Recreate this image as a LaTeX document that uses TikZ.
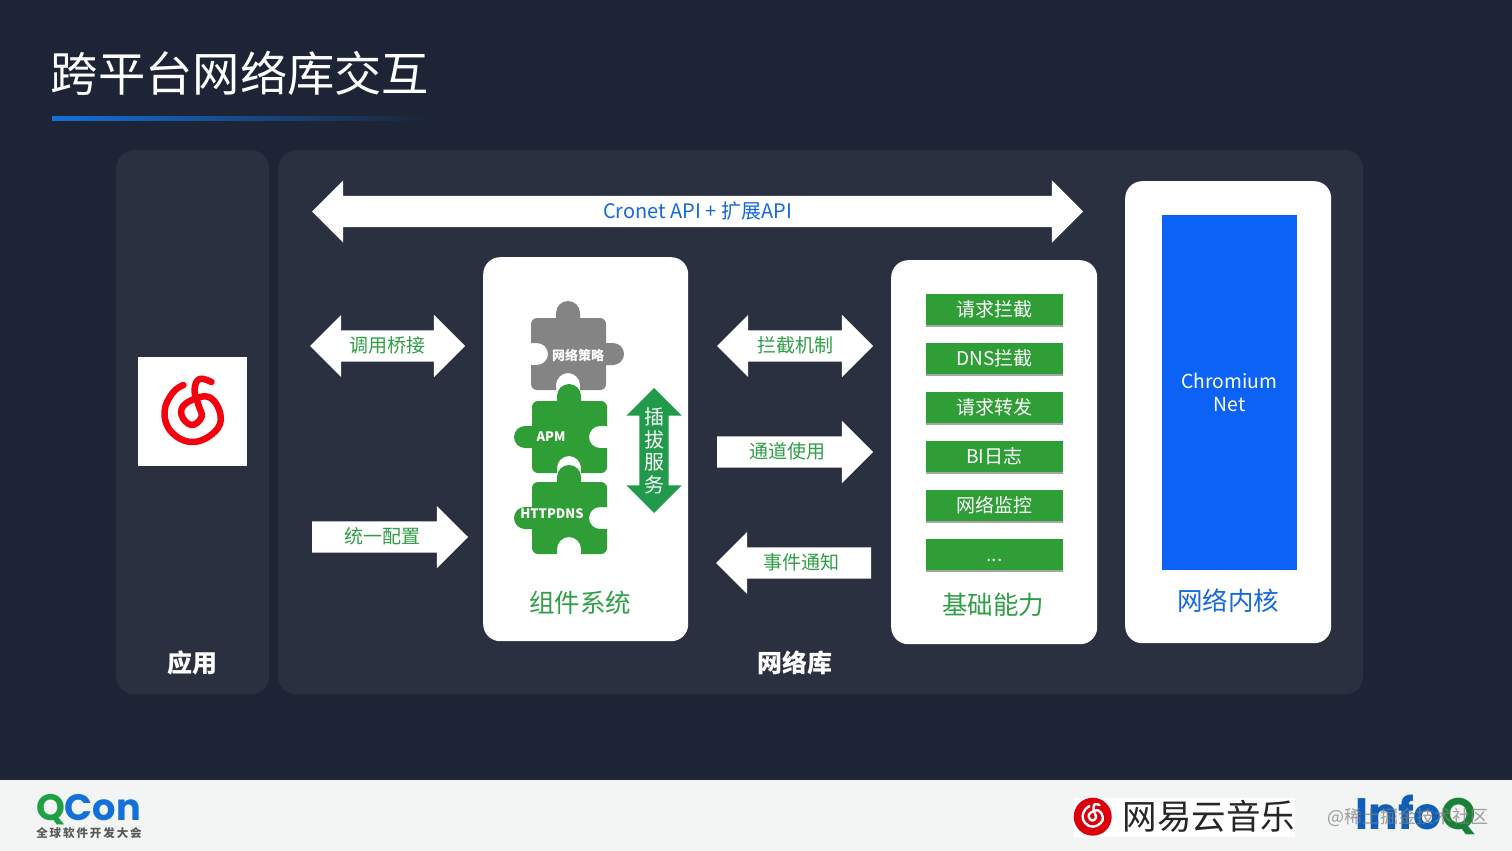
\documentclass[tikz,border=0pt]{standalone}
\usepackage{fontspec}
\setmainfont{Noto Sans CJK SC}
\newfontfamily\logofont{Poppins}
\usetikzlibrary{positioning,shapes.arrows,shadows}
\definecolor{pagebg}{HTML}{1C2436}
\definecolor{panelbg}{HTML}{2A3040}
\definecolor{footbg}{HTML}{F3F4F4}
\definecolor{cardgreen}{HTML}{2F9E37}
\definecolor{textgreen}{HTML}{2E9F46}
\definecolor{pluggreen}{HTML}{219A4B}
\definecolor{puzzlegray}{HTML}{848484}
\definecolor{corered}{HTML}{0C62F5}
\definecolor{textblue}{HTML}{1568E0}
\definecolor{neteasered}{HTML}{F5000F}
\definecolor{qgreen}{HTML}{1FA045}
\definecolor{qblue}{HTML}{1270D8}
\newcommand{\pxfont}[1]{\fontsize{#1}{#1}\selectfont}
\tikzset{
	panelbox/.style={fill=panelbg, rounded corners=18pt, anchor=north west, inner sep=0pt},
	whitecard/.style={fill=white, rounded corners=17pt, anchor=north west, inner sep=0pt},
	arrowbase/.style={fill=white, text=textgreen, inner xsep=2pt, inner ysep=8pt, outer sep=0pt,
		text height=14pt, text depth=1pt, minimum width=62pt, font=\pxfont{19}},
	dblarrow/.style={arrowbase, double arrow, double arrow head extend=15.5pt, double arrow tip angle=90},
	sglarrow/.style={arrowbase, single arrow, single arrow head extend=15.5pt, single arrow tip angle=90, anchor=tail},
	greenbox/.style={fill=cardgreen, text=white, minimum width=137pt, minimum height=31pt, inner sep=0pt, font=\pxfont{19},
		text height=16.7pt, text depth=2.3pt,
		drop shadow={shadow xshift=0pt, shadow yshift=-1.5pt, opacity=0.35, fill=black}},
	cardtitle/.style={font=\pxfont{25.5}},
	paneltitle/.style={text=white, font=\pxfont{25}\bfseries},
	piecelabel/.style={text=white, font=\pxfont{13}\bfseries, inner sep=0pt},
	every pic/.style={yscale=-1},
	greenpiece/.pic={
		\fill[cardgreen] (6,0) -- (25,0) -- (25,-5) arc[start angle=180,end angle=360,radius=12] -- (49,0)
			-- (69,0) arc[start angle=-90,end angle=0,radius=6] -- (75,25) -- (68,25)
			arc[start angle=270,end angle=90,radius=11] -- (75,47) -- (75,66)
			arc[start angle=0,end angle=90,radius=6] -- (49,72) -- (49,67)
			arc[start angle=0,end angle=-180,radius=12] -- (25,72) -- (6,72)
			arc[start angle=90,end angle=180,radius=6] -- (0,47) -- (-7,47)
			arc[start angle=90,end angle=270,radius=11] -- (0,25) -- (0,6)
			arc[start angle=180,end angle=270,radius=6] -- cycle;
	},
	graypiece/.pic={
		\fill[puzzlegray] (6,0) -- (25,0) -- (25,-5) arc[start angle=180,end angle=360,radius=12] -- (49,0)
			-- (69,0) arc[start angle=-90,end angle=0,radius=6] -- (75,25) -- (82,25)
			arc[start angle=270,end angle=450,radius=11] -- (75,47) -- (75,66)
			arc[start angle=0,end angle=90,radius=6] -- (49,72) -- (49,67)
			arc[start angle=0,end angle=-180,radius=12] -- (25,72) -- (6,72)
			arc[start angle=90,end angle=180,radius=6] -- (0,47) -- (6,47)
			arc[start angle=90,end angle=-90,radius=11] -- (0,25) -- (0,6)
			arc[start angle=180,end angle=270,radius=6] -- cycle;
	},
	spiral/.pic={
		\draw[line cap=round, line join=round, pic actions] plot[smooth, tension=0.7] coordinates {
			(-9,-30) (-20,-22) (-28,-3) (-21,17) (0,27) (22,17) (28,0) (16,-18)
			(-6,-12) (-11,0) (-1,10) (9,2) (6,-10) (2,-25) (7,-36) (19,-33)};
	},
}
\begin{document}
\begin{tikzpicture}[x=1pt,y=1pt,yscale=-1,node distance=49pt]
	\useasboundingbox (0,0) rectangle (1512,851);
	\fill[pagebg] (0,0) rectangle (1512,851);
	\fill[footbg] (0,780) rectangle (1512,851);

	% title
	\node[text=white, font=\pxfont{47.3}, inner sep=0pt] (title) at (240,73) {跨平台网络库交互};
	\shade[left color=qblue, right color=pagebg] (52,116) rectangle (430,120);

	% panels
	\node[panelbox, minimum width=153pt, minimum height=544pt] (app) at (116,150) {};
	\node[panelbox, minimum width=1085pt, minimum height=544pt] (lib) at (278,150) {};
	\node[paneltitle] (applabel) at (192,663) {应用};
	\node[paneltitle] (liblabel) at (795,663) {网络库};

	% app logo
	\node[fill=white, minimum size=109pt, inner sep=0pt, anchor=north west] (applogo) at (138,357) {};
	\pic[draw=neteasered, line width=6.5pt] at (192.5,415) {spiral};

	% cards
	\node[whitecard, minimum width=205pt, minimum height=384pt] (plugin) at (483,257) {};
	\node[whitecard, minimum width=206pt, minimum height=384pt] (base) at (891,260) {};
	\node[whitecard, minimum width=206pt, minimum height=462pt] (core) at (1125,181) {};
	\node[cardtitle, text=textgreen] (plugintitle) at (580,603) {组件系统};
	\node[cardtitle, text=textgreen] (basetitle) at (993,605) {基础能力};
	\node[cardtitle, text=textblue] (coretitle) at (1228,601) {网络内核};

	% arrows
	\node[dblarrow, minimum height=771pt, text=textblue, font=\pxfont{20}] (cronet) at (697.5,211.5) {Cronet API + 扩展API};
	\node[dblarrow, minimum height=155pt] (bridge) at (387.5,346) {调用桥接};
	\node[dblarrow, minimum height=156pt] (hook) at (795,346) {拦截机制};
	\node[sglarrow, minimum height=156pt] (config) at (312,537) {统一配置};
	\node[sglarrow, minimum height=156pt] (channel) at (717,452) {通道使用};
	\node[sglarrow, minimum height=155pt, shape border rotate=180] (notify) at (871,563) {事件通知};

	% puzzle
	\pic at (531,318) {graypiece};
	\pic at (532,401) {greenpiece};
	\pic at (532,482) {greenpiece};
	\node[piecelabel] (policy) at (578,355) {网络策略};
	\node[piecelabel] (apm) at (551,437) {APM};
	\node[piecelabel] (httpdns) at (552,514) {HTTPDNS};
	\node[fill=pluggreen, double arrow, double arrow head extend=13pt, double arrow tip angle=90,
		rotate=90, inner sep=14.5pt, outer sep=0pt, minimum width=55pt, minimum height=125pt] (plug) at (654,450.5) {};
	\node[text=white, align=center, font=\fontsize{20}{22.7}\selectfont, inner sep=0pt] (plugtext) at (654,451) {插\\拔\\服\\务};

	% list
	\node[greenbox] (b1) at (994.5,309.5) {请求拦截};
	\node[greenbox, below of=b1] (b2) {DNS拦截};
	\node[greenbox, below of=b2] (b3) {请求转发};
	\node[greenbox, below of=b3] (b4) {BI日志};
	\node[greenbox, below of=b4] (b5) {网络监控};
	\node[greenbox, below of=b5] (b6) {...};

	% chromium
	\node[fill=corered, text=white, minimum width=135pt, minimum height=355pt, inner sep=0pt, anchor=north west] (net) at (1162,215) {};
	\node[text=white, align=center, font=\fontsize{19.3}{23}\selectfont, inner sep=0pt] (nettext) at (1229.5,392) {Chromium\\Net};

	% footer
	\node[inner sep=0pt, font=\logofont\bfseries\pxfont{36.7}] (qcon) at (88.5,810) {\textcolor{qgreen}{Q}\textcolor{qblue}{Con}};
	\node[inner sep=0pt, text=black!65, font=\pxfont{11.5}\bfseries] (qconsub) at (89,833) {全\,球\,软\,件\,开\,发\,大\,会};
	\node[fill=white, minimum width=221pt, minimum height=39pt, inner sep=0pt, anchor=north west] (nelogo) at (1074,798) {};
	\node[fill=neteasered!90!black, circle, minimum size=38pt, inner sep=0pt] (neicon) at (1092.7,816.7) {};
	\pic[draw=white, line width=2.4pt, scale=0.36] at (1092.7,817) {spiral};
	\node[inner sep=0pt, text=black!85, font=\pxfont{34.5}] (netext) at (1209,816) {网易云音乐};
	\node[inner sep=0pt, font=\logofont\bfseries\pxfont{44}] (infoq) at (1416,815) {\textcolor{qblue!85!black}{Info}\textcolor{qgreen!80!black}{Q}};
	\node[inner sep=0pt, text=gray, opacity=0.75, font=\pxfont{18}] (mark) at (1408,817) {@稀土掘金技术社区};
\end{tikzpicture}
\end{document}
